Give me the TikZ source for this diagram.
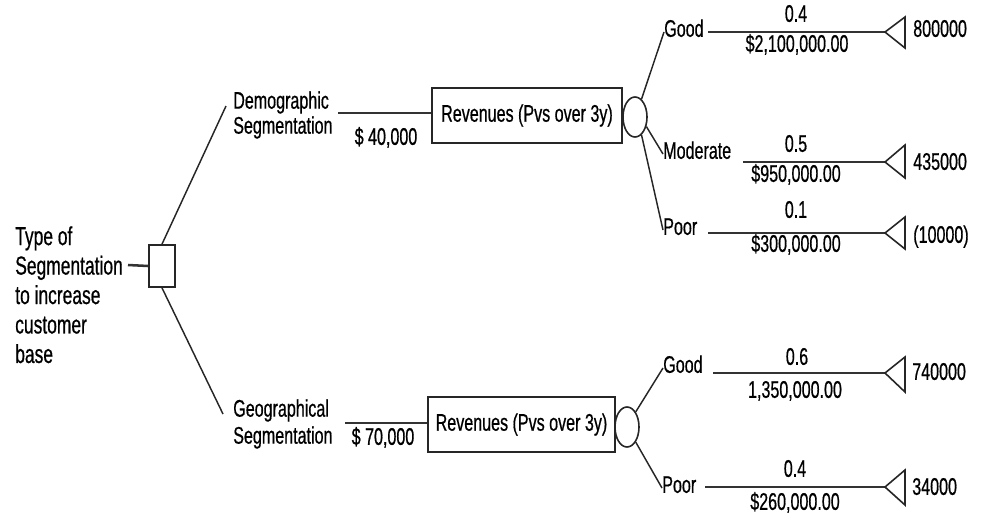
\documentclass[tikz,border=0pt]{standalone}
\usepackage{fontspec}
\setmainfont{Liberation Sans}[FakeStretch=0.67,FakeBold=0.6]
\usetikzlibrary{shapes.geometric}
\begin{document}
\begin{tikzpicture}[x=0.75pt,y=-0.75pt,
  lbl/.style={inner sep=0pt, font=\fontsize{18pt}{22pt}\selectfont, text height=0.72em, text depth=0pt},
  ml/.style={inner sep=0pt, align=left, anchor=north west},
  hline/.style={line width=1.9pt, draw=black!80},
  sline/.style={line width=1.1pt, draw=black!85},
  tri/.style={line width=1.2pt, draw=black!85},
  revbox/.style={draw=black!85, line width=1.5pt, minimum height=41.25pt, inner sep=0pt, font=\fontsize{18pt}{22pt}\selectfont},
  decbox/.style={draw=black!85, line width=1.3pt, minimum width=19.5pt, minimum height=31.5pt, inner sep=0pt},
  chance/.style={ellipse, draw=black!85, line width=1.2pt, minimum width=18pt, minimum height=30pt, inner sep=0pt}]
\useasboundingbox (0,0) rectangle (981,515);
% root
\node[ml, font=\fontsize{19.5pt}{22.1pt}\selectfont] (type) at (15,226) {Type of\\Segmentation\\to increase\\customer\\base};
\node[decbox] (dec) at (162,266) {};
\coordinate (tseg) at (128,265);
\draw[hline] (tseg) -- (dec.west);
% demographic branch
\node[ml, font=\fontsize{18pt}{18.75pt}\selectfont] (demo) at (233,91) {Demographic\\Segmentation};
\coordinate (du) at (226,106);
\draw[sline] (dec.north) -- (du);
\node[revbox, minimum width=142.5pt] (rev1) at (527,115.5) {Revenues (Pvs over 3y)};
\coordinate (dl) at (338,113);
\draw[hline] (dl) -- (dl -| rev1.west);
\node[lbl] (c40) at (386,140) {\$ 40,000};
\node[chance] (ch1) at (635,117) {};
% outcomes 1
\node[lbl, anchor=west] (g1) at (664,32) {Good};
\draw[sline] (ch1.70) -- (g1.west);
\coordinate (g1s) at (708,32);
\coordinate (t1) at (885,32);
\draw[hline] (g1s) -- (t1);
\draw[tri] (t1) -- ++(20,-15) -- ++(0,31) -- cycle;
\node[lbl] (p1) at (796,17) {0.4};
\node[lbl] (r1) at (797,47) {\$2,100,000.00};
\node[lbl, anchor=west] (v1) at (913,32) {800000};

\node[lbl, anchor=west] (m1) at (663,154) {Moderate};
\draw[sline] (ch1.-40) -- (m1.west);
\coordinate (m1s) at (743,162);
\coordinate (t2) at (885,162);
\draw[hline] (m1s) -- (t2);
\draw[tri] (t2) -- ++(20,-17) -- ++(0,33) -- cycle;
\node[lbl] (p2) at (796,147) {0.5};
\node[lbl] (r2) at (796,177) {\$950,000.00};
\node[lbl, anchor=west] (v2) at (913,165) {435000};

\node[lbl, anchor=west] (pr1) at (663,230) {Poor};
\draw[sline] (ch1.-70) -- (pr1.west);
\coordinate (pr1s) at (708,233);
\coordinate (t3) at (885,233);
\draw[hline] (pr1s) -- (t3);
\draw[tri] (t3) -- ++(20,-16) -- ++(0,32) -- cycle;
\node[lbl] (p3) at (796,213) {0.1};
\node[lbl] (r3) at (796,247) {\$300,000.00};
\node[lbl, anchor=west] (v3) at (913,238) {(10000)};

% geographical branch
\node[ml, font=\fontsize{18pt}{20.25pt}\selectfont] (geo) at (233,399) {Geographical\\Segmentation};
\coordinate (gu) at (223,414);
\draw[sline] (dec.south) -- (gu);
\node[revbox, minimum width=140.25pt] (rev2) at (521.5,424.5) {Revenues (Pvs over 3y)};
\coordinate (gl) at (345,423);
\draw[hline] (gl) -- (gl -| rev2.west);
\node[lbl] (c70) at (383,440) {\$ 70,000};
\node[chance] (ch2) at (627,427) {};
% outcomes 2
\node[lbl, anchor=west] (g2) at (663,368) {Good};
\draw[sline] (ch2.60) -- (g2.west);
\coordinate (g2s) at (713,373);
\coordinate (t4) at (885,373);
\draw[hline] (g2s) -- (t4);
\draw[tri] (t4) -- ++(20,-16) -- ++(0,35) -- cycle;
\node[lbl] (p4) at (797,360) {0.6};
\node[lbl] (r4) at (795,393) {1,350,000.00};
\node[lbl, anchor=west] (v4) at (912,375) {740000};

\node[lbl, anchor=west] (pr2) at (662,488) {Poor};
\draw[sline] (ch2.-60) -- (pr2.west);
\coordinate (pr2s) at (705,487);
\coordinate (t5) at (885,487);
\draw[hline] (pr2s) -- (t5);
\draw[tri] (t5) -- ++(20,-17) -- ++(0,35) -- cycle;
\node[lbl] (p5) at (795,472) {0.4};
\node[lbl] (r5) at (795,505) {\$260,000.00};
\node[lbl, anchor=west] (v5) at (912,490) {34000};
\end{tikzpicture}
\end{document}
